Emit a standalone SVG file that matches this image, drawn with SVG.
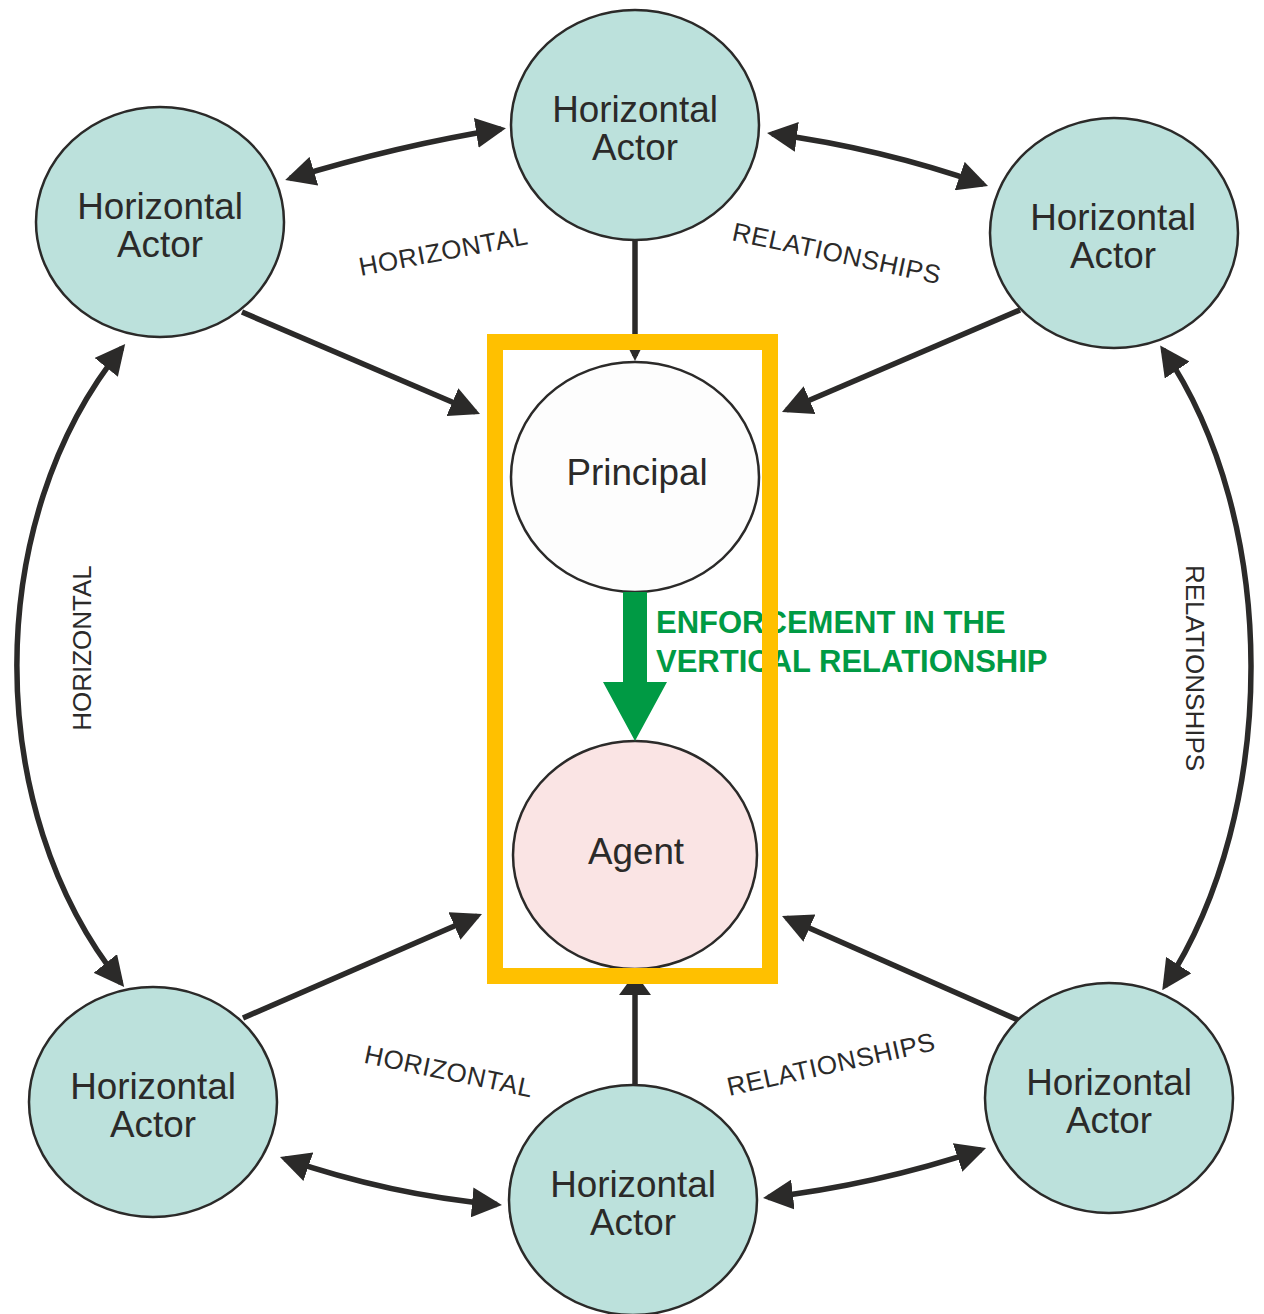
<svg xmlns="http://www.w3.org/2000/svg" width="1264" height="1314" viewBox="0 0 1264 1314">
<style>
.actor{fill:#bce1dc;stroke:#2b2a29;stroke-width:2.5}
.lbl{font-family:"Liberation Sans",Arial,sans-serif;font-size:36.8px;fill:#2b2a29;text-anchor:middle}
.rel{font-family:"Liberation Sans",Arial,sans-serif;font-size:26px;fill:#2b2a29;text-anchor:middle}
.con{fill:none;stroke:#2b2a29;stroke-width:5.5}
.green{font-family:"Liberation Sans",Arial,sans-serif;font-size:31px;font-weight:bold;fill:#009a44}
</style>
<defs>
<marker id="ah" viewBox="0 0 30 30" refX="25" refY="15" markerWidth="30" markerHeight="30" markerUnits="userSpaceOnUse" orient="auto-start-reverse">
<path d="M0,0 L30,15 L0,30 z" fill="#2b2a29"/>
</marker>
<marker id="ahs" viewBox="0 0 24 24" refX="19" refY="12" markerWidth="24" markerHeight="24" markerUnits="userSpaceOnUse" orient="auto">
<path d="M0,0 L24,12 L0,24 z" fill="#2b2a29"/>
</marker>
<marker id="ahb" viewBox="0 0 22 32" refX="17" refY="16" markerWidth="22" markerHeight="32" markerUnits="userSpaceOnUse" orient="auto">
<path d="M0,0 L22,16 L0,32 z" fill="#2b2a29"/>
</marker>
</defs>
<rect width="1264" height="1314" fill="#ffffff"/>
<g id="connectors">
<path class="con" d="M 290 178.5 Q 400 145 501 129" marker-start="url(#ah)" marker-end="url(#ah)"/>
<path class="con" d="M 772 133.7 Q 880 148 983.3 184.3" marker-start="url(#ah)" marker-end="url(#ah)"/>
<path class="con" d="M 284.7 1158.6 Q 390 1195 497 1204.6" marker-start="url(#ah)" marker-end="url(#ah)"/>
<path class="con" d="M 768 1197.4 Q 875 1185 981.3 1149.6" marker-start="url(#ah)" marker-end="url(#ah)"/>
<path class="con" d="M 122 348 C -18 520 -18 810 121 983" marker-start="url(#ah)" marker-end="url(#ah)"/>
<path class="con" d="M 1163 349.5 C 1280 520 1280 810 1165 986" marker-start="url(#ah)" marker-end="url(#ah)"/>
<path class="con" d="M 242 312 L 475.4 412" marker-end="url(#ah)"/>
<path class="con" d="M 1020 310 L 786.6 410" marker-end="url(#ah)"/>
<path class="con" d="M 243 1018 L 477.4 916" marker-end="url(#ah)"/>
<path class="con" d="M 1018 1020 L 786.6 918" marker-end="url(#ah)"/>
<path class="con" d="M 635 240 L 635 356" marker-end="url(#ahs)"/>
<path class="con" d="M 635 1087 L 635 978" marker-end="url(#ahb)"/>
</g>
<g id="actor-top-left">
<ellipse class="actor" cx="160" cy="222" rx="124" ry="115"/>
<text class="lbl" x="160" y="219">Horizontal</text>
<text class="lbl" x="160" y="257">Actor</text>
</g>
<g id="actor-top-center">
<ellipse class="actor" cx="635" cy="125" rx="124" ry="115"/>
<text class="lbl" x="635" y="122">Horizontal</text>
<text class="lbl" x="635" y="160">Actor</text>
</g>
<g id="actor-top-right">
<ellipse class="actor" cx="1114" cy="233" rx="124" ry="115"/>
<text class="lbl" x="1113" y="230">Horizontal</text>
<text class="lbl" x="1113" y="268">Actor</text>
</g>
<g id="actor-bottom-left">
<ellipse class="actor" cx="153" cy="1102" rx="124" ry="115"/>
<text class="lbl" x="153" y="1099">Horizontal</text>
<text class="lbl" x="153" y="1137">Actor</text>
</g>
<g id="actor-bottom-center">
<ellipse class="actor" cx="633" cy="1200" rx="124" ry="115"/>
<text class="lbl" x="633" y="1197">Horizontal</text>
<text class="lbl" x="633" y="1235">Actor</text>
</g>
<g id="actor-bottom-right">
<ellipse class="actor" cx="1109" cy="1098" rx="124" ry="115"/>
<text class="lbl" x="1109" y="1095">Horizontal</text>
<text class="lbl" x="1109" y="1133">Actor</text>
</g>
<g id="principal">
<ellipse cx="635" cy="477" rx="124" ry="115" fill="#fdfdfd" stroke="#2b2a29" stroke-width="2.5"/>
<text class="lbl" x="637" y="485">Principal</text>
</g>
<g id="agent">
<ellipse cx="635" cy="855" rx="122" ry="114" fill="#fae4e4" stroke="#2b2a29" stroke-width="2.5"/>
<text class="lbl" x="636" y="864">Agent</text>
</g>
<g id="relationship-labels">
<text class="rel" x="445" y="260" letter-spacing="0.6" transform="rotate(-10.7 445 260)">HORIZONTAL</text>
<text class="rel" x="835" y="262" letter-spacing="0.5" transform="rotate(12 835 262)">RELATIONSHIPS</text>
<text class="rel" x="447" y="1080" letter-spacing="0.6" transform="rotate(11.8 447 1080)">HORIZONTAL</text>
<text class="rel" x="833" y="1073" letter-spacing="0.5" transform="rotate(-12.5 833 1073)">RELATIONSHIPS</text>
<text class="rel" x="91" y="648" transform="rotate(-90 91 648)">HORIZONTAL</text>
<text class="rel" x="1186" y="668" transform="rotate(90 1186 668)">RELATIONSHIPS</text>
</g>
<g id="enforcement">
<polygon points="623,592 647,592 647,682 667,682 635,741 603,682 623,682" fill="#009a44"/>
<text class="green" x="656" y="633">ENFORCEMENT IN THE</text>
<text class="green" x="656" y="672">VERTICAL RELATIONSHIP</text>
</g>
<g id="vertical-box">
<rect x="495" y="342" width="275" height="634" fill="none" stroke="#ffc000" stroke-width="16"/>
</g>
</svg>
